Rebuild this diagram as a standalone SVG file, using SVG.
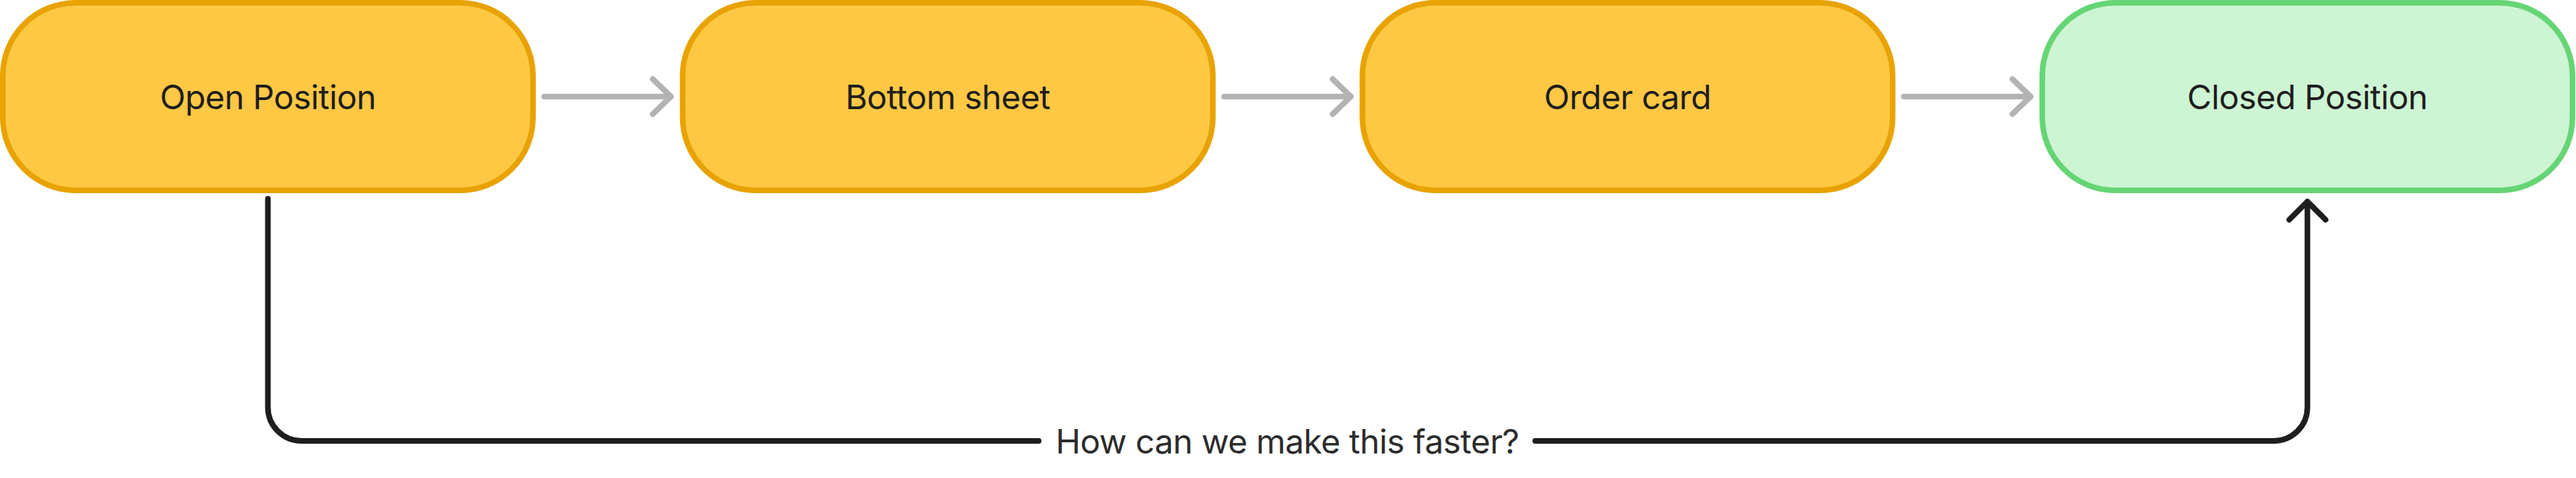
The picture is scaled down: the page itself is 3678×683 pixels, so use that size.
<svg xmlns="http://www.w3.org/2000/svg" width="3678" height="683" viewBox="0 0 3678 683">
<style>
.node rect{stroke-width:8}
.y rect{fill:#FEC844;stroke:#E8A302}
.g rect{fill:#CDF4D3;stroke:#66D575}
.lbl{font-family:Inter,"Liberation Sans",sans-serif;font-size:48px;letter-spacing:-0.6px;fill:#1e1e1e;text-anchor:middle}
.gray{fill:none;stroke:#B3B3B3;stroke-width:8;stroke-linecap:round;stroke-linejoin:round}
.blk{fill:none;stroke:#1E1E1E;stroke-width:8;stroke-linecap:round;stroke-linejoin:round}
</style>
<rect width="3678" height="683" fill="#ffffff"/>
<g id="node-open" class="node y"><rect x="4" y="4" width="757" height="268" rx="104" ry="104"/><text class="lbl" x="382.5" y="156">Open Position</text></g>
<g id="node-bottom" class="node y"><rect x="974.7" y="4" width="757" height="268" rx="104" ry="104"/><text class="lbl" x="1353.2" y="156">Bottom sheet</text></g>
<g id="node-order" class="node y"><rect x="1945.3" y="4" width="757" height="268" rx="104" ry="104"/><text class="lbl" x="2323.8" y="156">Order card</text></g>
<g id="node-closed" class="node g"><rect x="2916" y="4" width="757" height="268" rx="104" ry="104"/><text class="lbl" x="3294.5" y="156">Closed Position</text></g>
<g id="connectors">
<path class="gray" d="M777 138H958M932 113L958 138L932 163"/>
<path class="gray" d="M1747.7 138H1928.7M1902.7 113L1928.7 138L1902.7 163"/>
<path class="gray" d="M2718.3 138H2899.3M2873.3 113L2899.3 138L2873.3 163"/>
<path class="blk" d="M382.5 284V582A48 48 0 0 0 430.5 630H1483M2192 630H3246.5A48 48 0 0 0 3294.5 582V288M3268.5 314L3294.5 288L3320.5 314"/>
<text class="lbl" x="1838" y="648" style="fill:#2c2c2c">How can we make this faster?</text>
</g>
</svg>
